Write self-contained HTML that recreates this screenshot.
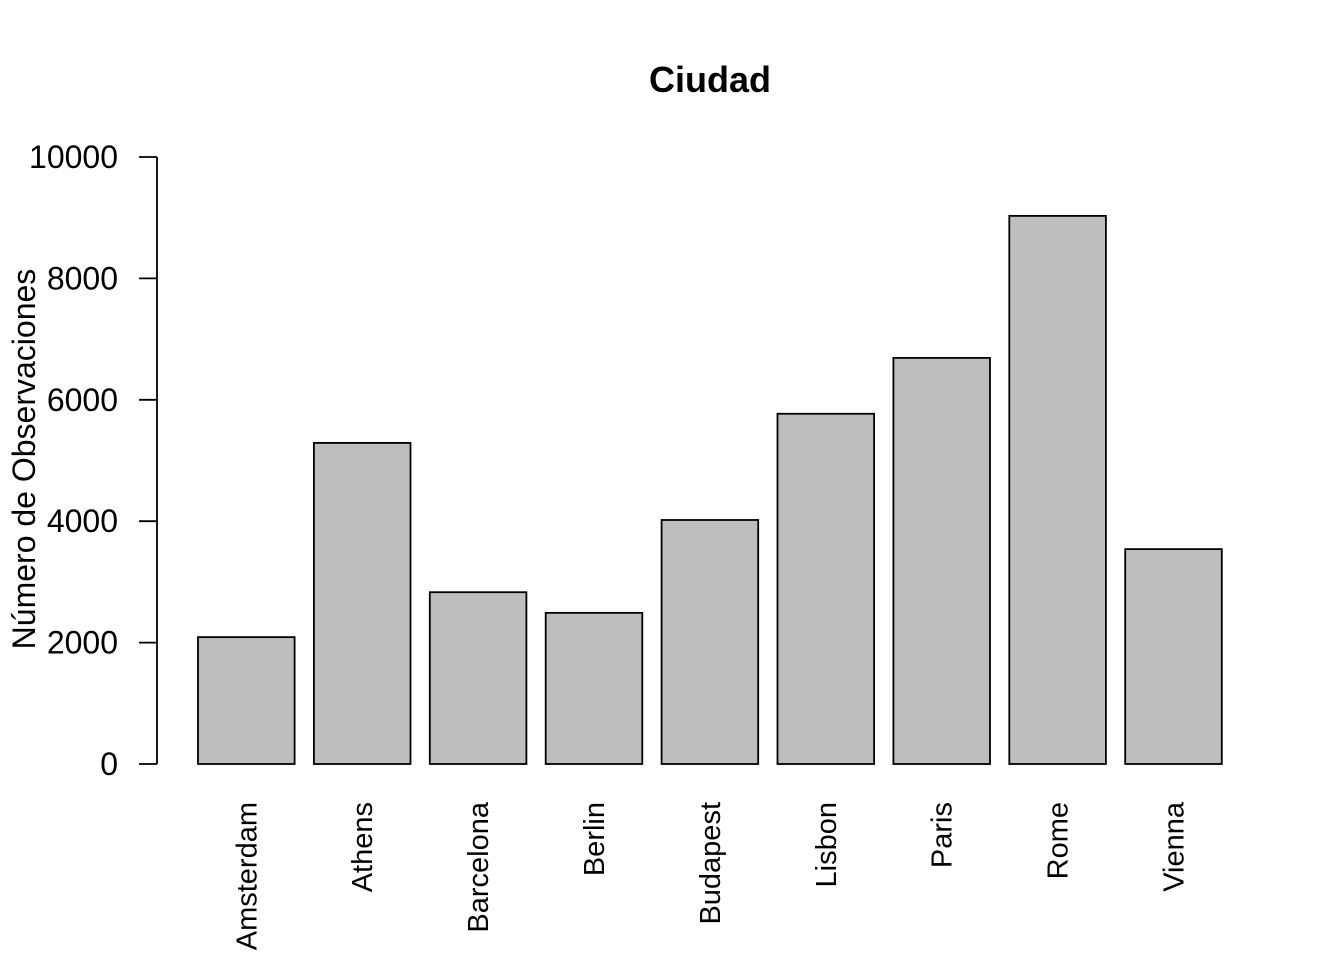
<!DOCTYPE html>
<html><head><meta charset="utf-8"><style>
body{margin:0;background:#fff}
svg text{font-family:"Liberation Sans",sans-serif;fill:#000}
</style></head><body>
<svg id="chart" width="1344" height="960" xmlns="http://www.w3.org/2000/svg">
<text x="710" y="92" text-anchor="middle" font-size="36" font-weight="bold">Ciudad</text>
<text transform="translate(35,459) rotate(-90)" text-anchor="middle" font-size="32">Número de Observaciones</text>
<g id="yaxis"></g>
<g id="bars"></g>
<g id="xlabels"></g>
</svg>
<script>
const categories = ["Amsterdam","Athens","Barcelona","Berlin","Budapest","Lisbon","Paris","Rome","Vienna"];
const values = [2090, 5290, 2830, 2490, 4020, 5770, 6690, 9030, 3540];
const yTicks = [0, 2000, 4000, 6000, 8000, 10000];
const yTickLabels = ["0","2000","4000","6000","8000","10000"];

const NS = "http://www.w3.org/2000/svg";
const y0 = 764, y1 = 157, yMax = 10000;
function yScale(v){ return y0 - (v / yMax) * (y0 - y1); }
function xLeft(i){ return 198 + 115.9 * i; }
const bw = 96.6;
function mk(tag, attrs, parent){
  const e = document.createElementNS(NS, tag);
  for (const k in attrs) e.setAttribute(k, attrs[k]);
  parent.appendChild(e); return e;
}
const ya = document.getElementById("yaxis");
const axl = mk("line", {x1:157, x2:157, y1:yScale(0), y2:yScale(yMax), stroke:"#000", "stroke-width":1.8}, ya);


yTicks.forEach((t, i) => {
  const tk = mk("line", {x1:139, x2:157, y1:yScale(t), y2:yScale(t), stroke:"#000", "stroke-width":1.8}, ya);
  
  
  const tl = mk("text", {x:118, y:yScale(t) + 11, "text-anchor":"end", "font-size":32}, ya);
  tl.textContent = yTickLabels[i];
  
  
});
const bg = document.getElementById("bars");
const xg = document.getElementById("xlabels");
categories.forEach((c, i) => {
  const r = mk("rect", {x:xLeft(i), y:yScale(values[i]), width:bw, height:yScale(0) - yScale(values[i]), fill:"#bebebe", stroke:"#000", "stroke-width":1.8}, bg);
  
  
  const cx = xLeft(i) + bw / 2 + 10;
  const t = mk("text", {transform:"translate(" + cx + ",802) rotate(-90)", "text-anchor":"end", "font-size":29}, xg);
  t.textContent = c;
  
  
});
</script>
</body></html>
